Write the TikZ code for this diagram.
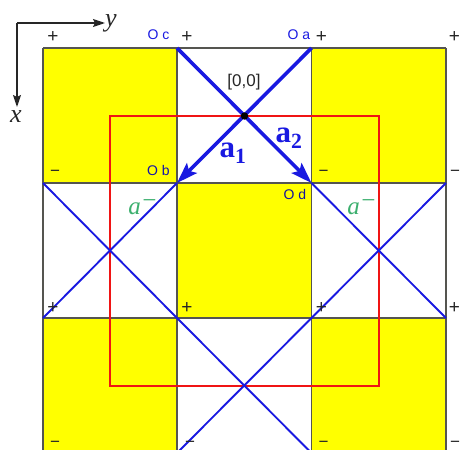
\documentclass[tikz,border=0pt]{standalone}
\usepackage{fontspec}
\setmainfont{Liberation Sans}
\newfontfamily\serifface{Liberation Serif}
\usetikzlibrary{arrows.meta}
\definecolor{gridgray}{RGB}{85,85,80}
\definecolor{latblue}{RGB}{25,25,225}
\definecolor{latred}{RGB}{240,20,20}
\definecolor{latgreen}{RGB}{60,175,110}
\definecolor{cellyellow}{RGB}{255,255,0}
\tikzset{
  cell/.style={fill=cellyellow,draw=none},
  gridline/.style={draw=gridgray,line width=1.3pt},
  redbox/.style={draw=latred,line width=1.6pt},
  thinblue/.style={draw=latblue,line width=1.9pt},
  thickblue/.style={draw=latblue,line width=3.6pt},
  thickarrow/.style={thickblue,-{Stealth[length=21pt,width=14pt,inset=4pt]}},
  axis/.style={draw=black!85,line width=1.4pt,-{Stealth[length=12pt,width=8pt,inset=2pt]}},
  sign/.style={font=\fontsize{19}{19}\selectfont,text=black!85,inner sep=0pt},
  minus/.style={font=\fontsize{17}{17}\selectfont,text=black!85,inner sep=0pt},
  origin/.style={font=\fontsize{14}{14}\selectfont,text=latblue,inner sep=0pt},
  vec/.style={font=\serifface\bfseries\fontsize{31}{31}\selectfont,text=latblue,inner sep=0pt},
  axlabel/.style={font=\serifface\itshape\fontsize{26}{26}\selectfont,text=black!85,inner sep=0pt},
  alabel/.style={font=\serifface\itshape\fontsize{25}{25}\selectfont,text=latgreen,inner sep=0pt},
}
\begin{document}
\begin{tikzpicture}[x=1pt,y=-1pt]
\useasboundingbox (0,0) rectangle (461,450);
\clip (0,0) rectangle (461,450);
% lattice points
\coordinate (A1) at (43,48);   \coordinate (A2) at (177,48);   \coordinate (A3) at (311.5,48);   \coordinate (A4) at (446,48);
\coordinate (B1) at (43,183);  \coordinate (B2) at (177,183);  \coordinate (B3) at (311.5,183);  \coordinate (B4) at (446,183);
\coordinate (C1) at (43,318);  \coordinate (C2) at (177,318);  \coordinate (C3) at (311.5,318);  \coordinate (C4) at (446,318);
\coordinate (D1) at (43,453);  \coordinate (D2) at (177,453);  \coordinate (D3) at (311.5,453);  \coordinate (D4) at (446,453);
\coordinate (R1) at (110,116); \coordinate (R2) at (379,116);  \coordinate (R3) at (379,386);    \coordinate (R4) at (110,386);
\coordinate (O) at (244.5,116);
% yellow cells
\fill[cell] (A1) rectangle (B2);
\fill[cell] (A3) rectangle (B4);
\fill[cell] (B2) rectangle (C3);
\fill[cell] (C1) rectangle (D2);
\fill[cell] (C3) rectangle (D4);
% grid
\draw[gridline] (A1) -- (A4);
\draw[gridline] (B1) -- (B4);
\draw[gridline] (C1) -- (C4);
\draw[gridline] (A1) -- (D1);
\draw[gridline] (A2) -- (D2);
\draw[gridline] (A3) -- (D3);
\draw[gridline] (A4) -- (D4);
% red cell
\draw[redbox] (R1) -- (R2) -- (R3) -- (R4) -- cycle;
% thin glide lines
\draw[thinblue] (B1) -- (C2) -- (D3);
\draw[thinblue] (B2) -- (C1);
\draw[thinblue] (B3) -- (C4);
\draw[thinblue] (B4) -- (C3) -- (D2);
% lattice vectors
\draw[thickarrow] (A2) -- (B3);
\draw[thickarrow] (A3) -- (B2);
\fill[black] (O) circle (3.7pt);
% axes
\coordinate (AX) at (17,23);
\coordinate (AY) at (105,23);
\coordinate (AZ) at (17,107);
\draw[axis] (AX) -- (AY);
\draw[axis] (AX) -- (AZ);
\node[axlabel] (ylab) at (111,23) {y};
\node[axlabel] (xlab) at (16,117) {x};
% signs
\node[sign] (s1) at (53,37) {+};
\node[sign] (s2) at (187,37) {+};
\node[sign] (s3) at (321.5,37) {+};
\node[sign] (s4) at (454.5,37) {+};
\node[minus] (s5) at (55,173) {\textminus};
\node[minus] (s6) at (323.5,173) {\textminus};
\node[minus] (s7) at (455,173) {\textminus};
\node[sign] (s8) at (53,308) {+};
\node[sign] (s9) at (187,308) {+};
\node[sign] (s10) at (321.5,308) {+};
\node[sign] (s11) at (454.5,308) {+};
\node[minus] (s12) at (55,444) {\textminus};
\node[minus] (s13) at (190,444) {\textminus};
\node[minus] (s14) at (323.5,444) {\textminus};
\node[minus] (s15) at (455,444) {\textminus};
% origins
\node[origin] (oc) at (158.5,35) {O c};
\node[origin] (oa) at (299,35) {O a};
\node[origin,text=latblue!75!black] (ob) at (158.5,170.5) {O b};
\node[origin,text=latblue!70!black] (od) at (295,194) {O d};
\node[font=\fontsize{17}{17}\selectfont,text=black!85,inner sep=0pt] (zero) at (244,82) {[0,0]};
% vector labels
\node[vec] (a1) at (233,153) {a\textsubscript{1}};
\node[vec] (a2) at (289,138) {a\textsubscript{2}};
% green labels
\node[alabel] (g1) at (143,207) {a\raisebox{6pt}{\textminus}};
\node[alabel] (g2) at (362,207) {a\raisebox{6pt}{\textminus}};
\end{tikzpicture}
\end{document}
